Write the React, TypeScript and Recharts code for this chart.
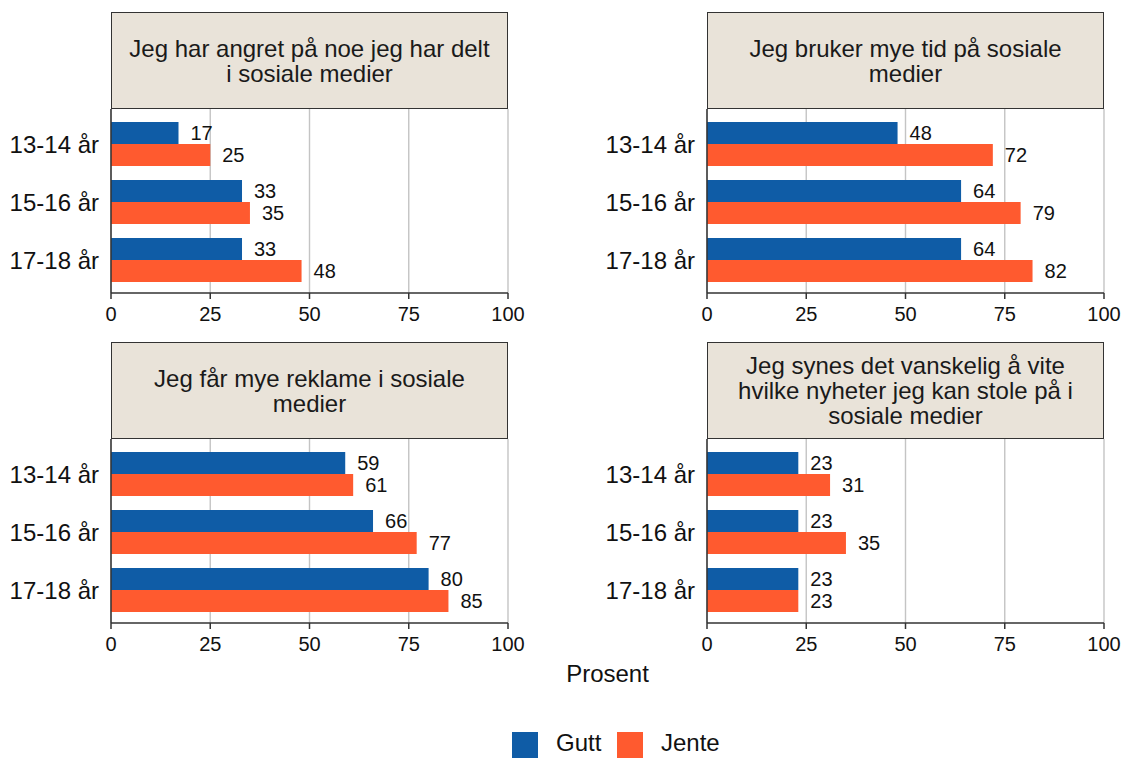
import React from "react";
import { BarChart, Bar, XAxis, YAxis, CartesianGrid, LabelList } from "recharts";

const ageGroups = ["13-14 år", "15-16 år", "17-18 år"];
const xTicks = [0, 25, 50, 75, 100];

const angretGutt = [17, 33, 33];
const angretJente = [25, 35, 48];
const tidGutt = [48, 64, 64];
const tidJente = [72, 79, 82];
const reklameGutt = [59, 66, 80];
const reklameJente = [61, 77, 85];
const nyheterGutt = [23, 23, 23];
const nyheterJente = [31, 35, 23];

const panelTitles = [
  ["Jeg har angret på noe jeg har delt", "i sosiale medier"],
  ["Jeg bruker mye tid på sosiale", "medier"],
  ["Jeg får mye reklame i sosiale", "medier"],
  ["Jeg synes det vanskelig å vite", "hvilke nyheter jeg kan stole på i", "sosiale medier"],
];
const panelGutt = [angretGutt, tidGutt, reklameGutt, nyheterGutt];
const panelJente = [angretJente, tidJente, reklameJente, nyheterJente];

const series = [
  { key: "Gutt", color: "#0f5ca6" },
  { key: "Jente", color: "#ff5a2f" },
];

// plot-area placement of each facet (left edge of plot, top of strip)
const panelPos = [
  { x: 111, y: 12 },
  { x: 707, y: 12 },
  { x: 111, y: 342 },
  { x: 707, y: 342 },
];

const PLOT_W = 397;
const STRIP_H = 97;
const PLOT_H = 184;
const AXIS_W = 111;
const TEXT = "#111";

function Panel({ idx }: { idx: number }) {
  const pos = panelPos[idx];
  const rows = ageGroups.map((age, i) => ({
    age,
    Gutt: panelGutt[idx][i],
    Jente: panelJente[idx][i],
  }));
  return (
    <>
      <div
        style={{
          position: "absolute",
          left: pos.x,
          top: pos.y,
          width: PLOT_W,
          height: STRIP_H,
          boxSizing: "border-box",
          border: "1.5px solid #333",
          background: "#e9e3d9",
          display: "flex",
          alignItems: "center",
          justifyContent: "center",
          textAlign: "center",
          fontSize: 24,
          lineHeight: "25px",
          color: "#1a1a1a",
        }}
      >
        <div>
          {panelTitles[idx].map((l, i) => (
            <div key={i}>{l}</div>
          ))}
        </div>
      </div>
      <div style={{ position: "absolute", left: pos.x - AXIS_W, top: pos.y + STRIP_H }}>
        <BarChart
          width={AXIS_W + PLOT_W + 52}
          height={PLOT_H + 40}
          data={rows}
          layout="vertical"
          margin={{ top: 0, right: 52, bottom: 0, left: 0 }}
          barGap={0}
          barSize={22}
        >
          <CartesianGrid horizontal={false} stroke="#c4c4c4" strokeWidth={1.4} />
          <XAxis
            type="number"
            domain={[0, 100]}
            ticks={xTicks}
            interval={0}
            height={40}
            tickSize={6}
            tickMargin={8}
            axisLine={{ stroke: "#333", strokeWidth: 1.5 }}
            tickLine={{ stroke: "#333", strokeWidth: 1.5 }}
            tick={{ fontSize: 20, fill: TEXT }}
          />
          <YAxis
            type="category"
            dataKey="age"
            width={AXIS_W}
            tickSize={0}
            tickMargin={12}
            padding={{ top: 6, bottom: 4 }}
            axisLine={{ stroke: "#333", strokeWidth: 1.5 }}
            tickLine={false}
            tick={{ fontSize: 24, fill: TEXT }}
          />
          {series.map((s) => (
            <Bar key={s.key} dataKey={s.key} fill={s.color} isAnimationActive={false}>
              <LabelList dataKey={s.key} position="right" offset={12} fontSize={20} fill={TEXT} />
            </Bar>
          ))}
        </BarChart>
      </div>
    </>
  );
}

export default function App() {
  return (
    <div
      style={{
        position: "absolute",
        left: 0,
        top: 0,
        width: 1125,
        height: 758,
        overflow: "hidden",
        background: "#fff",
        fontFamily: "'Liberation Sans', Arial, sans-serif",
        color: TEXT,
      }}
    >
      {panelPos.map((_, i) => (
        <Panel key={i} idx={i} />
      ))}
      <div
        style={{
          position: "absolute",
          left: 0,
          width: 1215,
          top: 662,
          textAlign: "center",
          fontSize: 24,
          lineHeight: "24px",
        }}
      >
        Prosent
      </div>
      {series.map((s, i) => (
        <React.Fragment key={s.key}>
          <div
            style={{
              position: "absolute",
              left: 512 + i * 105,
              top: 732,
              width: 26,
              height: 26,
              background: s.color,
            }}
          />
          <div
            style={{
              position: "absolute",
              left: 556 + i * 105,
              top: 733,
              fontSize: 24,
              lineHeight: "20px",
            }}
          >
            {s.key}
          </div>
        </React.Fragment>
      ))}
    </div>
  );
}
